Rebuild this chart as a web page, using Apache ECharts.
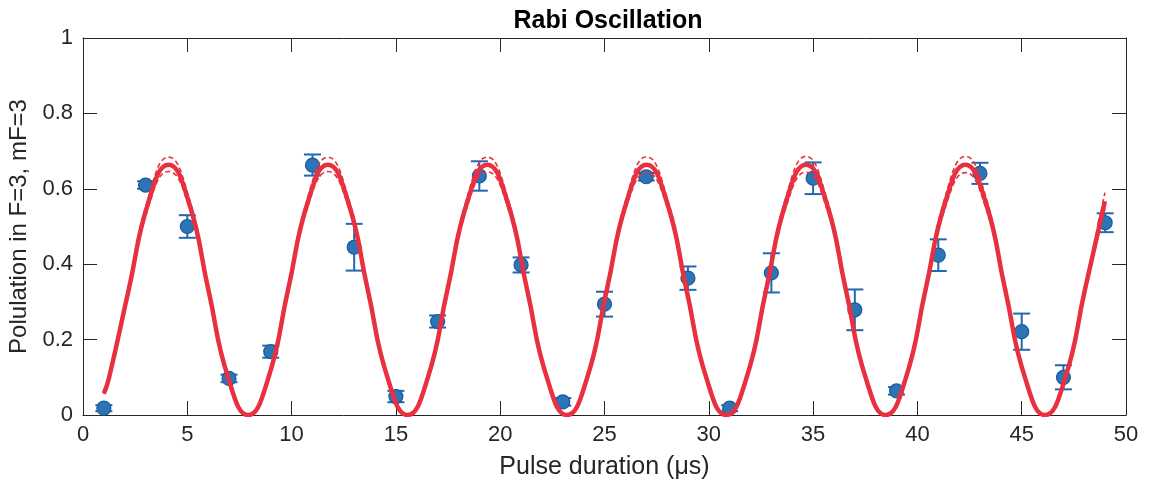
<!DOCTYPE html>
<html>
<head>
<meta charset="utf-8">
<script src="https://cdn.jsdelivr.net/npm/echarts@6/dist/echarts.min.js"></script>
<style>
html,body{margin:0;padding:0;background:#fff;}
#c{width:1153px;height:484px;}
</style>
</head>
<body>
<div id="c"></div>
<script>
// Measured data points
const pulseX = [1,3,5,7,9,11,13,15,17,19,21,23,25,27,29,31,33,35,37,39,41,43,45,47,49];
const population = [0.018,0.610,0.500,0.097,0.168,0.663,0.445,0.049,0.248,0.634,0.398,0.035,0.294,0.632,0.363,0.018,0.377,0.628,0.279,0.064,0.424,0.641,0.221,0.100,0.510];
const errors = [0.008,0.010,0.030,0.010,0.016,0.028,0.062,0.015,0.016,0.039,0.020,0.010,0.033,0.010,0.031,0.008,0.052,0.042,0.054,0.010,0.042,0.028,0.048,0.032,0.025];

// Fit curve
const fitX = [1.00,1.24,2.19,3.15,4.10,5.06,6.01,6.97,7.92,8.88,9.83,10.79,11.74,12.70,13.65,14.61,15.56,16.52,17.47,18.43,19.38,20.34,21.29,22.25,23.20,24.16,25.11,26.07,27.02,27.98,28.93,29.89,30.84,31.80,32.75,33.71,34.66,35.62,36.57,37.53,38.48,39.44,40.39,41.35,42.30,43.26,44.21,45.17,46.12,47.08,48.03,48.99];
const fitY = [0.057,0.097,0.332,0.567,0.664,0.567,0.332,0.097,0.000,0.097,0.332,0.567,0.664,0.567,0.332,0.097,0.000,0.097,0.332,0.567,0.664,0.567,0.332,0.097,0.000,0.097,0.332,0.567,0.664,0.567,0.332,0.097,0.000,0.097,0.332,0.567,0.664,0.567,0.332,0.097,0.000,0.097,0.332,0.567,0.664,0.567,0.332,0.097,0.000,0.097,0.332,0.567];
const fitUpper = [0.058,0.099,0.338,0.580,0.684,0.580,0.338,0.099,0.002,0.099,0.338,0.580,0.684,0.580,0.338,0.099,0.002,0.099,0.338,0.580,0.684,0.580,0.338,0.099,0.002,0.099,0.338,0.580,0.685,0.580,0.338,0.099,0.002,0.099,0.338,0.580,0.686,0.580,0.338,0.099,0.002,0.099,0.338,0.582,0.686,0.582,0.338,0.099,0.002,0.099,0.340,0.590];
const fitLower = [0.056,0.095,0.326,0.555,0.646,0.555,0.326,0.095,0.000,0.095,0.326,0.555,0.646,0.555,0.326,0.095,0.000,0.095,0.326,0.555,0.645,0.555,0.326,0.095,0.000,0.095,0.326,0.555,0.644,0.555,0.326,0.095,0.000,0.095,0.326,0.553,0.644,0.553,0.326,0.095,0.000,0.095,0.326,0.552,0.643,0.552,0.326,0.095,0.000,0.095,0.324,0.548];

const xTicks = [0,5,10,15,20,25,30,35,40,45,50];
const yTicks = [0,0.2,0.4,0.6,0.8,1];

const FONT = '"Liberation Sans", Arial, Helvetica, sans-serif';
const AXC = '#262626';
const RED = '#e8303f';

const pts = pulseX.map((x,i)=>[x, population[i]]);
const errData = pulseX.map((x,i)=>[x, population[i]-errors[i], population[i]+errors[i]]);
const zip = (a,b)=>a.map((x,i)=>[x,b[i]]);

const chart = echarts.init(document.getElementById('c'));
const axisLineStyle = {color: AXC, width: 1};
chart.setOption({
  animation: false,
  backgroundColor: '#fff',
  title: {
    text: 'Rabi Oscillation', left: 603, top: 4, textAlign: 'center',
    textStyle: {fontFamily: FONT, fontSize: 25, fontWeight: 'bold', color: '#000'}
  },
  grid: {left: 83, right: 27, top: 38, bottom: 69, containLabel: false, outerBoundsMode: 'none'},
  xAxis: [{
    type: 'value', min: 0, max: 50, interval: 5,
    name: 'Pulse duration (\u03bcs)', nameLocation: 'middle', nameGap: 40,
    nameTextStyle: {fontFamily: FONT, fontSize: 25, color: AXC},
    axisLine: {show: true, lineStyle: axisLineStyle},
    axisTick: {show: true, inside: true, length: 14, lineStyle: axisLineStyle},
    axisLabel: {fontFamily: FONT, fontSize: 22, color: AXC, margin: 9},
    splitLine: {show: false}
  },{
    type: 'value', min: 0, max: 50, interval: 5, position: 'top',
    axisLine: {show: true, onZero: false, lineStyle: axisLineStyle},
    axisTick: {show: true, inside: true, length: 14, lineStyle: axisLineStyle},
    axisLabel: {show: false}, splitLine: {show: false}
  }],
  yAxis: [{
    type: 'value', min: 0, max: 1, interval: 0.2,
    name: 'Polulation in F=3, mF=3', nameLocation: 'middle', nameGap: 50,
    nameTextStyle: {fontFamily: FONT, fontSize: 24, color: AXC},
    axisLine: {show: true, lineStyle: axisLineStyle},
    axisTick: {show: true, inside: true, length: 14, lineStyle: axisLineStyle},
    axisLabel: {fontFamily: FONT, fontSize: 22, color: AXC, margin: 10,
      formatter: v => (Math.abs(v-1)<1e-9 ? '1' : (Math.abs(v)<1e-9 ? '0' : String(Math.round(v*10)/10)))},
    splitLine: {show: false}
  },{
    type: 'value', min: 0, max: 1, interval: 0.2, position: 'right',
    axisLine: {show: true, onZero: false, lineStyle: axisLineStyle},
    axisTick: {show: true, inside: true, length: 14, lineStyle: axisLineStyle},
    axisLabel: {show: false}, splitLine: {show: false}
  }],
  series: [
    {
      type: 'custom', name: 'err', z: 2,
      renderItem: function(params, api){
        const x = api.value(0), lo = api.value(1), hi = api.value(2);
        const pH = api.coord([x, hi]), pL = api.coord([x, lo]);
        const w = 8.5;
        const st = {stroke: '#2168b0', lineWidth: 2};
        return {type: 'group', children: [
          {type: 'line', shape: {x1: pH[0], y1: pH[1], x2: pL[0], y2: pL[1]}, style: st},
          {type: 'line', shape: {x1: pH[0]-w, y1: pH[1], x2: pH[0]+w, y2: pH[1]}, style: st},
          {type: 'line', shape: {x1: pL[0]-w, y1: pL[1], x2: pL[0]+w, y2: pL[1]}, style: st}
        ]};
      },
      encode: {x: 0, y: [1,2]},
      data: errData
    },
    {
      type: 'scatter', name: 'data', z: 3,
      symbol: 'circle', symbolSize: 14,
      itemStyle: {color: '#2b74b6', borderColor: '#1c5a9c', borderWidth: 1.2, opacity: 1},
      data: pts
    },
    {
      type: 'line', name: 'upper', z: 4, smooth: 0.5, showSymbol: false, symbol: 'none',
      lineStyle: {color: RED, width: 1.6, type: [5,3]},
      data: zip(fitX, fitUpper)
    },
    {
      type: 'line', name: 'lower', z: 4, smooth: 0.5, showSymbol: false, symbol: 'none',
      lineStyle: {color: RED, width: 1.6, type: [5,3]},
      data: zip(fitX, fitLower)
    },
    {
      type: 'line', name: 'fit', z: 5, smooth: 0.5, showSymbol: false, symbol: 'none',
      lineStyle: {color: RED, width: 4.5},
      data: zip(fitX, fitY)
    }
  ]
});
</script>
</body>
</html>
